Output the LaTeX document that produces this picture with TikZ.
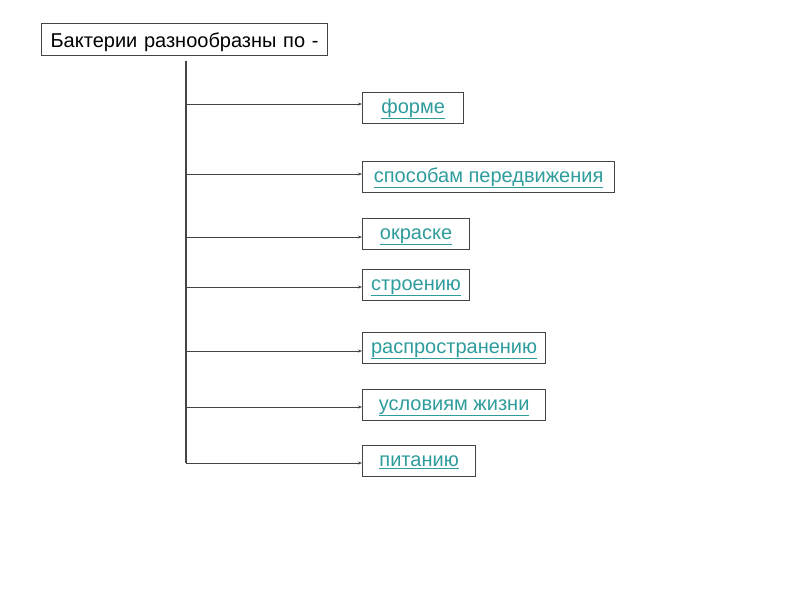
\documentclass[tikz,border=0pt]{standalone}
\usepackage{fontspec}
\setmainfont{Liberation Sans}
\usetikzlibrary{arrows.meta}
\definecolor{linkc}{HTML}{2E9C9C}
\definecolor{edgec}{HTML}{444444}
\begin{document}
\begin{tikzpicture}[x=1pt,y=-1pt,
  hdr/.style={draw=edgec,line width=1.2pt,minimum height=32pt,inner ysep=0pt,inner xsep=9pt,text width=268pt,text height=15pt,text depth=0pt,align=left,font=\fontsize{20}{22}\selectfont,text=black},
  item/.style={draw=edgec,line width=1.2pt,minimum height=31pt,inner sep=0pt,text height=14pt,text depth=4pt,font=\fontsize{20}{22}\selectfont,text=linkc},
  trunk/.style={draw=edgec,line width=1.2pt},
  arr/.style={draw=edgec,line width=1pt,-{Stealth[length=4pt,width=3pt]}}]
\useasboundingbox (0,0) rectangle (800,600);
\newcommand{\lk}[1]{\underline{#1}}
\node[hdr,anchor=north west] (h) at (41,23) {Бактерии разнообразны по -};
\node[item,minimum width=101pt,anchor=north west] (b1) at (362,92) {\lk{форме}};
\node[item,minimum width=252pt,anchor=north west] (b2) at (362,161) {\lk{способам передвижения}};
\node[item,minimum width=107pt,anchor=north west] (b3) at (362,218) {\lk{окраске}};
\node[item,minimum width=107pt,anchor=north west] (b4) at (362,269) {\lk{строению}};
\node[item,minimum width=183pt,anchor=north west] (b5) at (362,332) {\lk{распространению}};
\node[item,minimum width=183pt,anchor=north west] (b6) at (362,389) {\lk{условиям жизни}};
\node[item,minimum width=113pt,anchor=north west] (b7) at (362,445) {\lk{питанию}};
\coordinate (top) at (186,61);
\coordinate (t1) at (186,104);
\coordinate (t2) at (186,174);
\coordinate (t3) at (186,237);
\coordinate (t4) at (186,287);
\coordinate (t5) at (186,351);
\coordinate (t6) at (186,407);
\coordinate (t7) at (186,463);
\draw[trunk] (top) -- (t7);
\foreach \i in {1,...,7}{\draw[arr] (t\i) -- (t\i -| b\i.west);}
\end{tikzpicture}
\end{document}
